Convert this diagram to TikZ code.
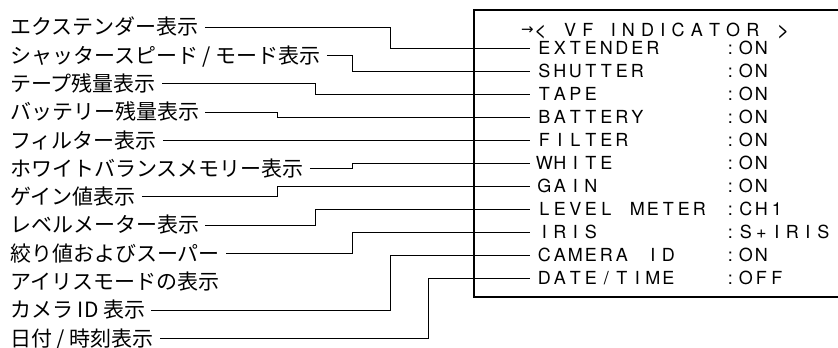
\documentclass[tikz,border=0pt]{standalone}
\usepackage{fontspec}
\newfontfamily\jpfont{Noto Sans CJK JP}
\newfontfamily\vffont{TeX Gyre Heros}
\newfontfamily\symfont{DejaVu Sans}

% fixed cells for the viewfinder rows
\newcommand\vfcell[1]{\makebox[15.5pt][c]{#1}}
\def\vfloop#1{\ifx\relax#1\else\vfcell{#1}\expandafter\vfloop\fi}
\newcommand\vfrow[1]{\vfloop#1\relax}
% spaced letters for the heading
\def\hdloop#1{\ifx\relax#1\else#1\kern6.2pt\expandafter\hdloop\fi}
\newcommand\vfhead[1]{\hdloop#1\relax}
\newcommand\vfarrow{\raisebox{2.2pt}{\symfont\fontsize{15}{15}\selectfont →}\kern-5.8pt}
\newcommand\vflt{\raisebox{-0.6pt}{\scalebox{1.2}{<}}}
\newcommand\vfgt{\raisebox{-0.6pt}{\scalebox{1.2}{>}}}

\begin{document}
\begin{tikzpicture}[x=1pt, y=-1pt,
        jp/.style={anchor=west, inner xsep=6pt, inner ysep=0pt, text height=15.4pt, text depth=0pt,
                   font=\jpfont\fontsize{21}{24}\selectfont},
        vf/.style={anchor=west, inner xsep=6.5pt, inner ysep=0pt, text height=12.9pt, text depth=0pt,
                   font=\vffont\fontsize{18}{20}\selectfont},
        wire/.style={line width=0.9pt}]
        \useasboundingbox (0,0) rectangle (838,348);

        % display frame (runs off the right edge)
        \draw[line width=1.2pt] (838,10) -- (474,10) -- (474,297) -- (838,297);

        \node[vf, inner xsep=0pt] (head) at (521,30) {\vfhead{\vfarrow\vflt~VF~INDICATOR~\vfgt}};

        \node[vf] (r0) at (530,48.4) {\vfrow{EXTENDER~~~~:ON}};
        \node[vf] (r1) at (530,71.4) {\vfrow{SHUTTER~~~~~:ON}};
        \node[vf] (r2) at (530,94.4) {\vfrow{TAPE~~~~~~~~:ON}};
        \node[vf] (r3) at (530,117.4) {\vfrow{BATTERY~~~~~:ON}};
        \node[vf] (r4) at (530,140.4) {\vfrow{FILTER~~~~~~:ON}};
        \node[vf] (r5) at (530,163.4) {\vfrow{WHITE~~~~~~~:ON}};
        \node[vf] (r6) at (530,186.4) {\vfrow{GAIN~~~~~~~~:ON}};
        \node[vf] (r7) at (530,209.4) {\vfrow{LEVEL~METER~:CH1}};
        \node[vf] (r8) at (530,232.4) {\vfrow{IRIS~~~~~~~~:S+IRIS}};
        \node[vf] (r9) at (530,255.4) {\vfrow{CAMERA~ID~~~:ON}};
        \node[vf] (r10) at (530,278.4) {\vfrow{DATE/TIME~~~:OFF}};

        \node[jp] (l0) at (4,27.1) {エクステンダー表示};
        \node[jp] (l1) at (4,55.4) {シャッタースピード / モード表示};
        \node[jp] (l2) at (4,83.7) {テープ残量表示};
        \node[jp] (l3) at (4,112.0) {バッテリー残量表示};
        \node[jp] (l4) at (4,140.4) {フィルター表示};
        \node[jp] (l5) at (4,168.6) {ホワイトバランスメモリー表示};
        \node[jp] (l6) at (4,196.9) {ゲイン値表示};
        \node[jp] (l7) at (4,225.2) {レベルメーター表示};
        \node[jp] (l8) at (4,253.5) {絞り値およびスーパー};
        \node[jp] (l8b) at (4,281.8) {アイリスモードの表示};
        \node[jp] (l9) at (4,310.1) {カメラ ID 表示};
        \node[jp] (l10) at (4,338.4) {日付 / 時刻表示};

        % columns where the leaders turn
        \coordinate (k277) at (277,0);
        \coordinate (k315) at (315,0);
        \coordinate (k353) at (352.7,0);
        \coordinate (k391) at (390.7,0);
        \coordinate (k428) at (428.3,0);

        \draw[wire] (l0.east) -- (l0.east -| k391) |- (r0.west);
        \draw[wire] (l1.east) -- (l1.east -| k353) |- (r1.west);
        \draw[wire] (l2.east) -- (l2.east -| k315) |- (r2.west);
        \draw[wire] (l3.east) -- (l3.east -| k277) |- (r3.west);
        \draw[wire] (l4.east) -- (r4.west);
        \draw[wire] (l5.east) -- (l5.east -| k353) |- (r5.west);
        \draw[wire] (l6.east) -- (l6.east -| k277) |- (r6.west);
        \draw[wire] (l7.east) -- (l7.east -| k315) |- (r7.west);
        \draw[wire] (l8.east) -- (l8.east -| k353) |- (r8.west);
        \draw[wire] (l9.east) -- (l9.east -| k391) |- (r9.west);
        \draw[wire] (l10.east) -- (l10.east -| k428) |- (r10.west);
    \end{tikzpicture}
\end{document}
